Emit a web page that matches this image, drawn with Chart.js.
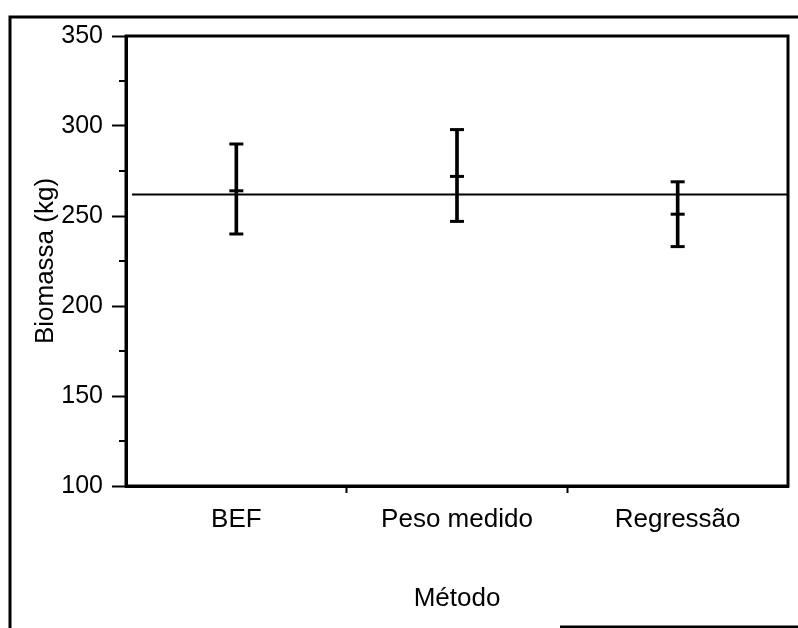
<!DOCTYPE html>
<html>
<head>
<meta charset="utf-8">
<script src="https://cdn.jsdelivr.net/npm/chart.js@4"></script>
<style>
  html, body { margin: 0; padding: 0; background: #fff; }
  #wrap { width: 798px; height: 628px; position: relative; }
</style>
</head>
<body>
<div id="wrap"><canvas id="c" width="798" height="628"></canvas></div>
<script>
const categories = ['BEF', 'Peso medido', 'Regressão'];
const means = [264, 272, 251];
const lowerCI = [240, 247, 233];
const upperCI = [290, 298, 269];
const referenceLine = [262];
const yTicks = [100, 150, 200, 250, 300, 350];
const yMinorTicks = [125, 175, 225, 275, 325];

const FONT = "'Liberation Sans', Arial, sans-serif";

const isInnerTick = (c) => c.type === 'tick' && c.index > 0 && c.index < categories.length;

const framePlugin = {
  id: 'frame',
  afterDatasetsDraw(chart) {
    const { ctx, chartArea: a, scales } = chart;
    const y = scales.y;
    ctx.save();
    ctx.strokeStyle = '#000';
    // reference line
    ctx.lineWidth = 2;
    const yr = y.getPixelForValue(referenceLine[0]);
    ctx.beginPath();
    ctx.moveTo(a.left + 6, yr);
    ctx.lineTo(a.right, yr);
    ctx.stroke();
    // plot box
    ctx.lineWidth = 3;
    ctx.strokeRect(a.left, a.top, a.right - a.left, a.bottom - a.top);
    // minor ticks
    ctx.lineWidth = 2;
    yMinorTicks.forEach(v => {
      const py = y.getPixelForValue(v);
      ctx.beginPath();
      ctx.moveTo(a.left - 7, py);
      ctx.lineTo(a.left, py);
      ctx.stroke();
    });
    // outer figure border
    ctx.lineWidth = 3;
    ctx.beginPath();
    ctx.moveTo(10, 628);
    ctx.lineTo(10, 17);
    ctx.lineTo(798, 17);
    ctx.stroke();
    ctx.beginPath();
    ctx.moveTo(560, 627);
    ctx.lineTo(798, 627);
    ctx.stroke();
    ctx.restore();
  }
};

new Chart(document.getElementById('c'), {
  type: 'bar',
  data: {
    labels: categories,
    datasets: [
      {
        type: 'bar',
        data: categories.map((_, i) => [lowerCI[i], upperCI[i]]),
        backgroundColor: '#000',
        borderWidth: 0,
        barThickness: 3,
        order: 3
      },
      {
        type: 'line',
        data: means,
        showLine: false,
        pointStyle: 'line',
        pointRadius: 7,
        pointBorderWidth: 3,
        pointBorderColor: '#000',
        pointBackgroundColor: '#000',
        order: 1
      },
      {
        type: 'line',
        data: upperCI,
        showLine: false,
        pointStyle: 'line',
        pointRadius: 7,
        pointBorderWidth: 3,
        pointBorderColor: '#000',
        order: 2
      },
      {
        type: 'line',
        data: lowerCI,
        showLine: false,
        pointStyle: 'line',
        pointRadius: 7,
        pointBorderWidth: 3,
        pointBorderColor: '#000',
        order: 2
      }
    ]
  },
  options: {
    responsive: false,
    animation: false,
    events: [],
    layout: { padding: { left: 0, top: 36, right: 10, bottom: 0 } },
    plugins: { legend: { display: false }, tooltip: { enabled: false } },
    scales: {
      x: {
        offset: true,
        grid: {
          offset: true,
          drawOnChartArea: false,
          drawTicks: true,
          tickLength: 7,
          tickWidth: (c) => isInnerTick(c) ? 2 : 0,
          tickColor: (c) => isInnerTick(c) ? '#000' : 'rgba(0,0,0,0)'
        },
        border: { display: true, color: '#000', width: 3 },
        ticks: { color: '#000', font: { family: FONT, size: 26 }, padding: 11 },
        title: {
          display: true, text: 'Método', color: '#000',
          font: { family: FONT, size: 26 }, padding: { top: 0, bottom: 14 }
        },
        afterFit(s) { s.height = 628 - 486; }
      },
      y: {
        min: 100, max: 350,
        afterBuildTicks(s) { s.ticks = yTicks.map(v => ({ value: v })); },
        grid: {
          drawOnChartArea: false,
          drawTicks: true,
          tickLength: 14,
          tickWidth: 2,
          tickColor: '#000'
        },
        border: { display: true, color: '#000', width: 3 },
        ticks: { color: '#000', font: { family: FONT, size: 25 }, padding: 9 },
        title: {
          display: true, text: 'Biomassa (kg)', color: '#000',
          font: { family: FONT, size: 26 }, padding: { top: 30, bottom: 0 }
        },
        afterFit(s) { s.width = 126; }
      }
    }
  },
  plugins: [framePlugin]
});
</script>
</body>
</html>
